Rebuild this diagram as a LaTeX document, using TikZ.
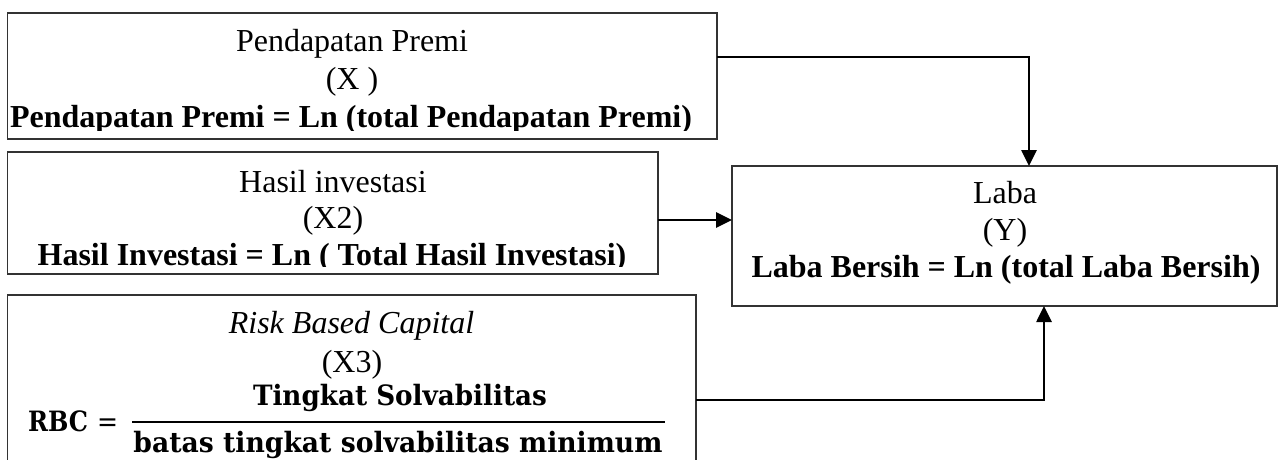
\documentclass[tikz,border=0pt]{standalone}
\usepackage{fontspec}
\usepackage{graphicx}
\setmainfont{Liberation Serif}
\newfontfamily\cmb{DejaVu Serif}
\usetikzlibrary{arrows.meta}
\begin{document}
\begin{tikzpicture}[x=1pt,y=-1pt,
  box/.style={draw=black!80, line width=1.2pt, rectangle, inner sep=0pt, outer sep=0pt},
  txt/.style={inner sep=0pt, outer sep=0pt, anchor=base, font=\fontsize{32}{37}\selectfont},
  txtb/.style={txt, font=\fontsize{32}{37}\selectfont\bfseries},
  txti/.style={txt, font=\fontsize{32}{37}\selectfont\itshape},
  frac/.style={inner sep=0pt, outer sep=0pt, anchor=base, font=\fontsize{28}{30}\selectfont\cmb\bfseries},
  arr/.style={line width=2.7pt, -{Triangle[length=16pt,width=15pt]}},
  barline/.style={line width=2.6pt}]
\useasboundingbox (0,0) rectangle (1279,460);
\fill[white] (0,0) rectangle (1279,460);

% boxes
\node[box, minimum width=709.5pt, minimum height=126pt] (p1) at (362.25,76) {};
\node[box, minimum width=650.5pt, minimum height=122pt] (p2) at (332.75,213) {};
\node[box, minimum width=688.5pt, minimum height=210pt] (p3) at (351.75,400) {};
\node[box, minimum width=545pt, minimum height=140pt] (laba) at (1004.5,236) {};

% box 1 text
\begin{scope}
\clip (7.5,13) rectangle (717,130.5);
\node[txt] (t1a) at (352,52) {Pendapatan Premi};
\node[txt] (t1b) at (352,89) {(X )};
\node[txtb] (t1c) at (351,127) {Pendapatan Premi = Ln (total Pendapatan Premi)};
\end{scope}

% box 2 text
\begin{scope}
\clip (7.5,152) rectangle (658,266);
\node[txt] (t2a) at (333,192) {Hasil investasi};
\node[txt] (t2b) at (333,228.5) {(X2)};
\node[txtb] (t2c) at (332,265) {Hasil Investasi = Ln ( Total Hasil Investasi)};
\end{scope}

% box 3 text
\node[txti] (t3a) at (351.5,333) {Risk Based Capital};
\node[txt] (t3b) at (352,372) {(X3)};
\node[frac, anchor=base west] (rbc) at (28,431) {\resizebox{60pt}{\height}{RBC}};
\node[frac, anchor=base west, font=\fontsize{28}{30}\selectfont\cmb] (eq) at (97,431) {\resizebox{21pt}{\height}{=}};
\node[frac] (num) at (400,405) {\resizebox{294pt}{\height}{Tingkat Solvabilitas}};
\draw[barline] (132,422) -- (665,422);
\node[frac] (den) at (398,452) {\resizebox{529pt}{\height}{batas tingkat solvabilitas minimum}};

% Laba text
\node[txt] (t4a) at (1005,203) {Laba};
\node[txt] (t4b) at (1005,240) {(Y)};
\node[txtb] (t4c) at (1006,277) {Laba Bersih = Ln (total Laba Bersih)};

% connectors
\path ([yshift=19pt]p1.east) coordinate (a1s);
\path ([xshift=24.5pt]laba.north) coordinate (a1e);
\draw[arr] (a1s) -| (a1e);
\path ([yshift=-7pt]p2.east) coordinate (a2s);
\draw[arr] (a2s) -- (a2s -| laba.west);
\path ([xshift=39.5pt]laba.south) coordinate (a3e);
\draw[arr] (p3.east) -| (a3e);
\end{tikzpicture}
\end{document}
